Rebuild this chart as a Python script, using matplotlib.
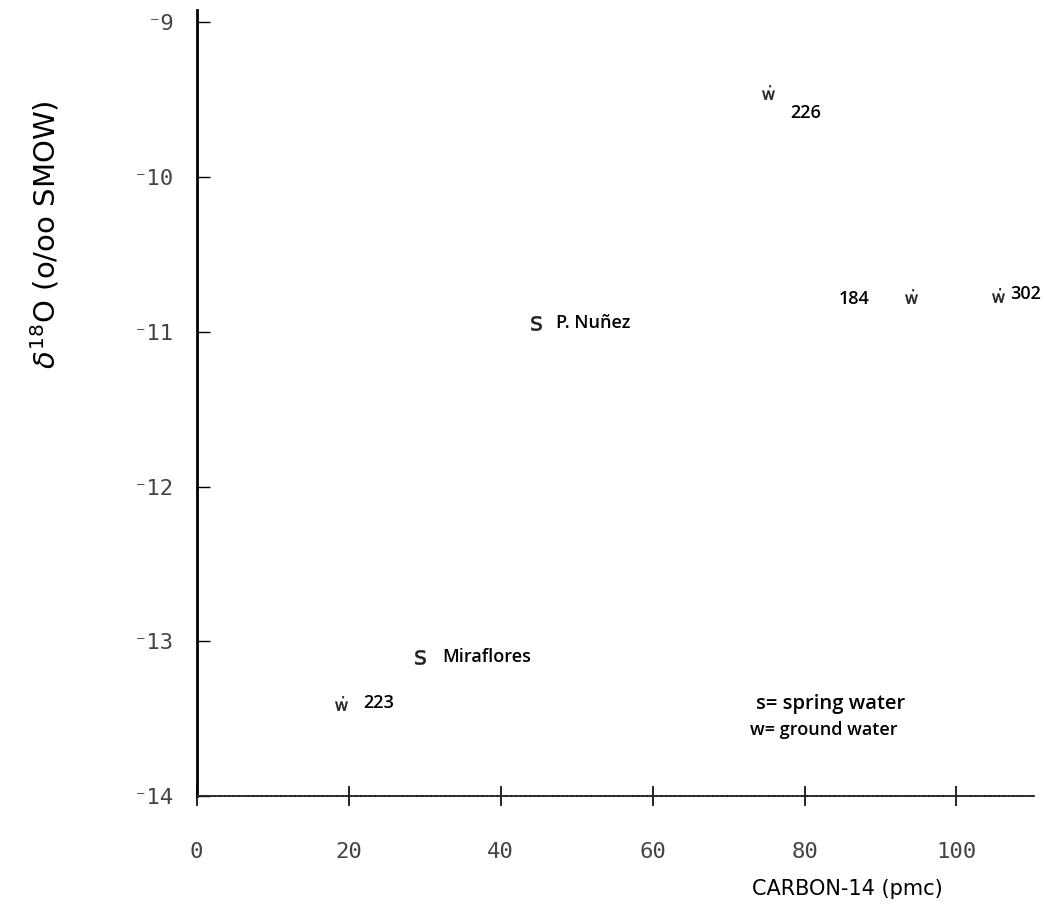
import matplotlib
matplotlib.use("Agg")
import matplotlib.pyplot as plt

# Sample values: carbon-14 (pmc) vs delta-18O (per mil SMOW)
names = ["226", "184", "302", "P. Nuñez", "Miraflores", "223"]
kinds = ["w", "w", "w", "s", "s", "w"]          # w = ground water, s = spring water
carbon14 = [75.2, 94.0, 105.5, 44.7, 29.4, 19.0]
delta18o = [-9.45, -10.77, -10.76, -10.94, -13.10, -13.40]

# label placement relative to each marker (pixels) and alignment
label_dx = [22, -41, 12, 20, 22, 22]
label_dy = [-21, -3, 1, 0, 0, 0]
label_ha = ["left", "right", "left", "left", "left", "left"]

x_ticks = [0, 20, 40, 60, 80, 100]
x_tick_labels = ["0", "20", "40", "60", "80", "100"]
y_ticks = [-9, -10, -11, -12, -13, -14]
y_tick_labels = ["\u207b9", "\u207b10", "\u207b11", "\u207b12", "\u207b13", "\u207b14"]

fig = plt.figure(figsize=(10.47, 9.08), dpi=100)
ax = fig.add_axes([0.1877, 0.1233, 0.7999, 0.8656])
ax.set_xlim(0, 110.2)
ax.set_ylim(-14, -8.92)

for side in ("top", "right"):
    ax.spines[side].set_visible(False)
ax.spines["left"].set_linewidth(2.0)
ax.spines["left"].set_color("black")
ax.spines["bottom"].set_linewidth(1.3)
ax.spines["bottom"].set_color("#222222")
ax.spines["bottom"].set_linestyle((0, (2, 0.6)))

ax.set_xticks(x_ticks)
ax.set_xticklabels(x_tick_labels)
ax.set_yticks(y_ticks)
ax.set_yticklabels(y_tick_labels)
ax.tick_params(axis="x", direction="inout", length=14, width=1.2, pad=26,
               labelsize=16, labelcolor="#444444")
ax.tick_params(axis="y", direction="in", length=9, width=1.0, pad=16,
               labelsize=16, labelcolor="#444444")
for lab in ax.get_xticklabels() + ax.get_yticklabels():
    lab.set_family("DejaVu Sans Mono")
    lab.set_fontweight("light")

marker_for = {"w": r"$\dot{\mathrm{w}}$", "s": r"$\mathrm{s}$"}
for kind in ("w", "s"):
    xs = [c for c, k in zip(carbon14, kinds) if k == kind]
    ys = [d for d, k in zip(delta18o, kinds) if k == kind]
    ax.scatter(xs, ys, marker=marker_for[kind], s=110, color="#222222",
               linewidths=0.3, clip_on=False, zorder=3)

for name, x, y, dx, dy, ha in zip(names, carbon14, delta18o, label_dx, label_dy, label_ha):
    ax.annotate(name, (x, y), xytext=(dx, dy), textcoords="offset pixels",
                ha=ha, va="center", fontsize=13, fontweight="semibold",
                family="Open Sans", color="black", annotation_clip=False)

# key to the marker letters
ax.text(0.668, 0.117, "s= spring water", transform=ax.transAxes, fontsize=14.5,
        family="Open Sans", fontweight="semibold", va="center", ha="left")
ax.text(0.661, 0.084, "w= ground water", transform=ax.transAxes, fontsize=13,
        family="Open Sans", fontweight="semibold", va="center", ha="left")

ax.set_xlabel("CARBON-14 (pmc)", fontsize=15, family="DejaVu Sans")
ax.xaxis.set_label_coords(0.777, -0.105)
ax.set_ylabel(r"$\delta^{18}$O (o/oo SMOW)", fontsize=21, family="DejaVu Sans")
ax.yaxis.set_label_coords(-0.161, 0.714)

fig.savefig("out.png", dpi=100, facecolor="white")
